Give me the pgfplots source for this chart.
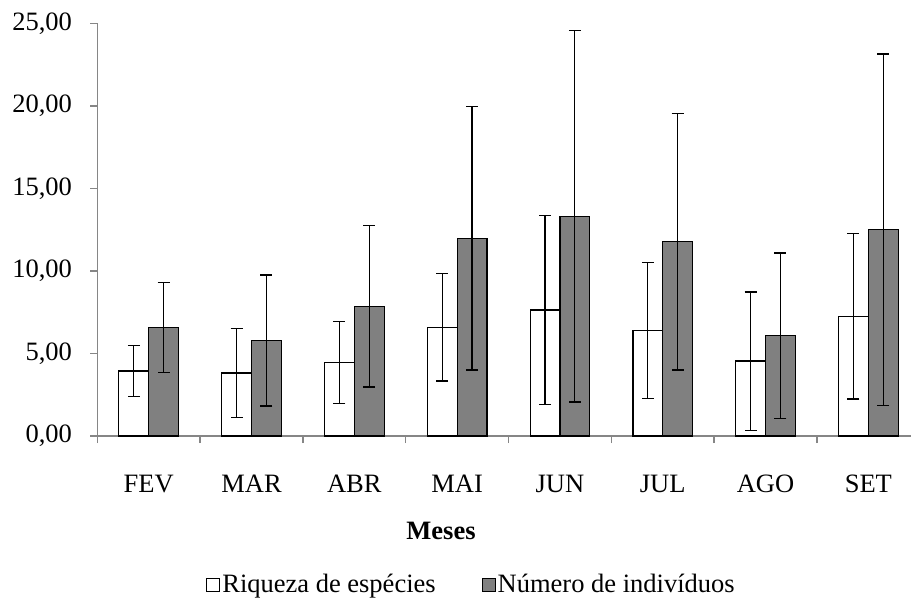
\documentclass[border=0pt]{standalone}
\usepackage{fontspec}
\setmainfont{Liberation Serif}
\usepackage{pgfplots}
\usepackage{pgfplotstable}
\pgfplotsset{compat=1.18}
\definecolor{barg}{RGB}{128,128,128}
\definecolor{axg}{RGB}{134,134,134}
\pgfplotstableread{
x wr we gn ge
0 3.94 1.53 6.58 2.72
1 3.82 2.69 5.78 3.97
2 4.46 2.48 7.86 4.90
3 6.58 3.25 11.97 7.98
4 7.63 5.73 13.31 11.25
5 6.40 4.13 11.77 7.78
6 4.54 4.19 6.08 5.00
7 7.25 5.01 12.50 10.64
}\datatab
\begin{document}
\begin{tikzpicture}[font=\fontsize{13.25}{15}\selectfont]
\begin{axis}[
  at={(48.65pt,83pt)}, anchor=south west,
  scale only axis, width=406.85pt, height=206.35pt,
  xmin=-0.5, xmax=7.415, ymin=0, ymax=25,
  axis x line=bottom, axis y line=left,
  axis line style={-, draw=axg, line width=0.7pt},
  clip=false,
  xtick={0,...,7},
  xticklabels={FEV,MAR,ABR,MAI,JUN,JUL,AGO,SET},
  major x tick style={draw=none},
  minor xtick={-0.5,0.5,...,6.5},
  minor x tick style={draw=axg, line width=0.7pt},
  tick align=outside,
  minor tick length=3.5pt,
  major tick length=3.5pt,
  ytick={0,5,...,25},
  y tick style={draw=axg, line width=0.7pt},
  xticklabel style={anchor=base, yshift=-24.5pt},
  yticklabel style={anchor=east, inner sep=0pt, xshift=-9pt},
  /pgf/number format/.cd, fixed, fixed zerofill, precision=2, use comma, assume math mode=true,
  /pgfplots/.cd,
  ybar, bar width=0.29,
  legend columns=2,
  legend style={draw=none, fill=none, at={(0.4599,-0.361)}, anchor=center,
    nodes={inner xsep=1pt, inner ysep=0pt},
    /tikz/every even column/.append style={column sep=22pt}},
]
\addplot[draw=black, fill=white, line width=0.6pt, bar shift=-0.145,
  error bars/.cd, y dir=both, y explicit,
  error bar style={black, line width=0.65pt},
  error mark options={rotate=90, mark size=3pt, line width=0.65pt, black},
  /pgfplots/.cd,
  legend image code/.code={\draw[black, fill=white, line width=0.5pt] (0pt,-3.2pt) rectangle (6.5pt,3.2pt);}]
  table[x=x, y=wr, y error=we] {\datatab};
\addlegendentry{Riqueza de espécies}
\addplot[draw=black, fill=barg, line width=0.6pt, bar shift=0.145,
  error bars/.cd, y dir=both, y explicit,
  error bar style={black, line width=0.65pt},
  error mark options={rotate=90, mark size=3pt, line width=0.65pt, black},
  /pgfplots/.cd,
  legend image code/.code={\draw[black, fill=barg, line width=0.5pt] (0pt,-3.2pt) rectangle (6.5pt,3.2pt);}]
  table[x=x, y=gn, y error=ge] {\datatab};
\addlegendentry{Número de indivíduos}
\end{axis}
\node[anchor=base, inner sep=0pt] at (220.5pt,31.35pt) {\bfseries Meses};
\pgfresetboundingbox
\path (0,0) rectangle (455.5pt,301pt);
\end{tikzpicture}
\end{document}
